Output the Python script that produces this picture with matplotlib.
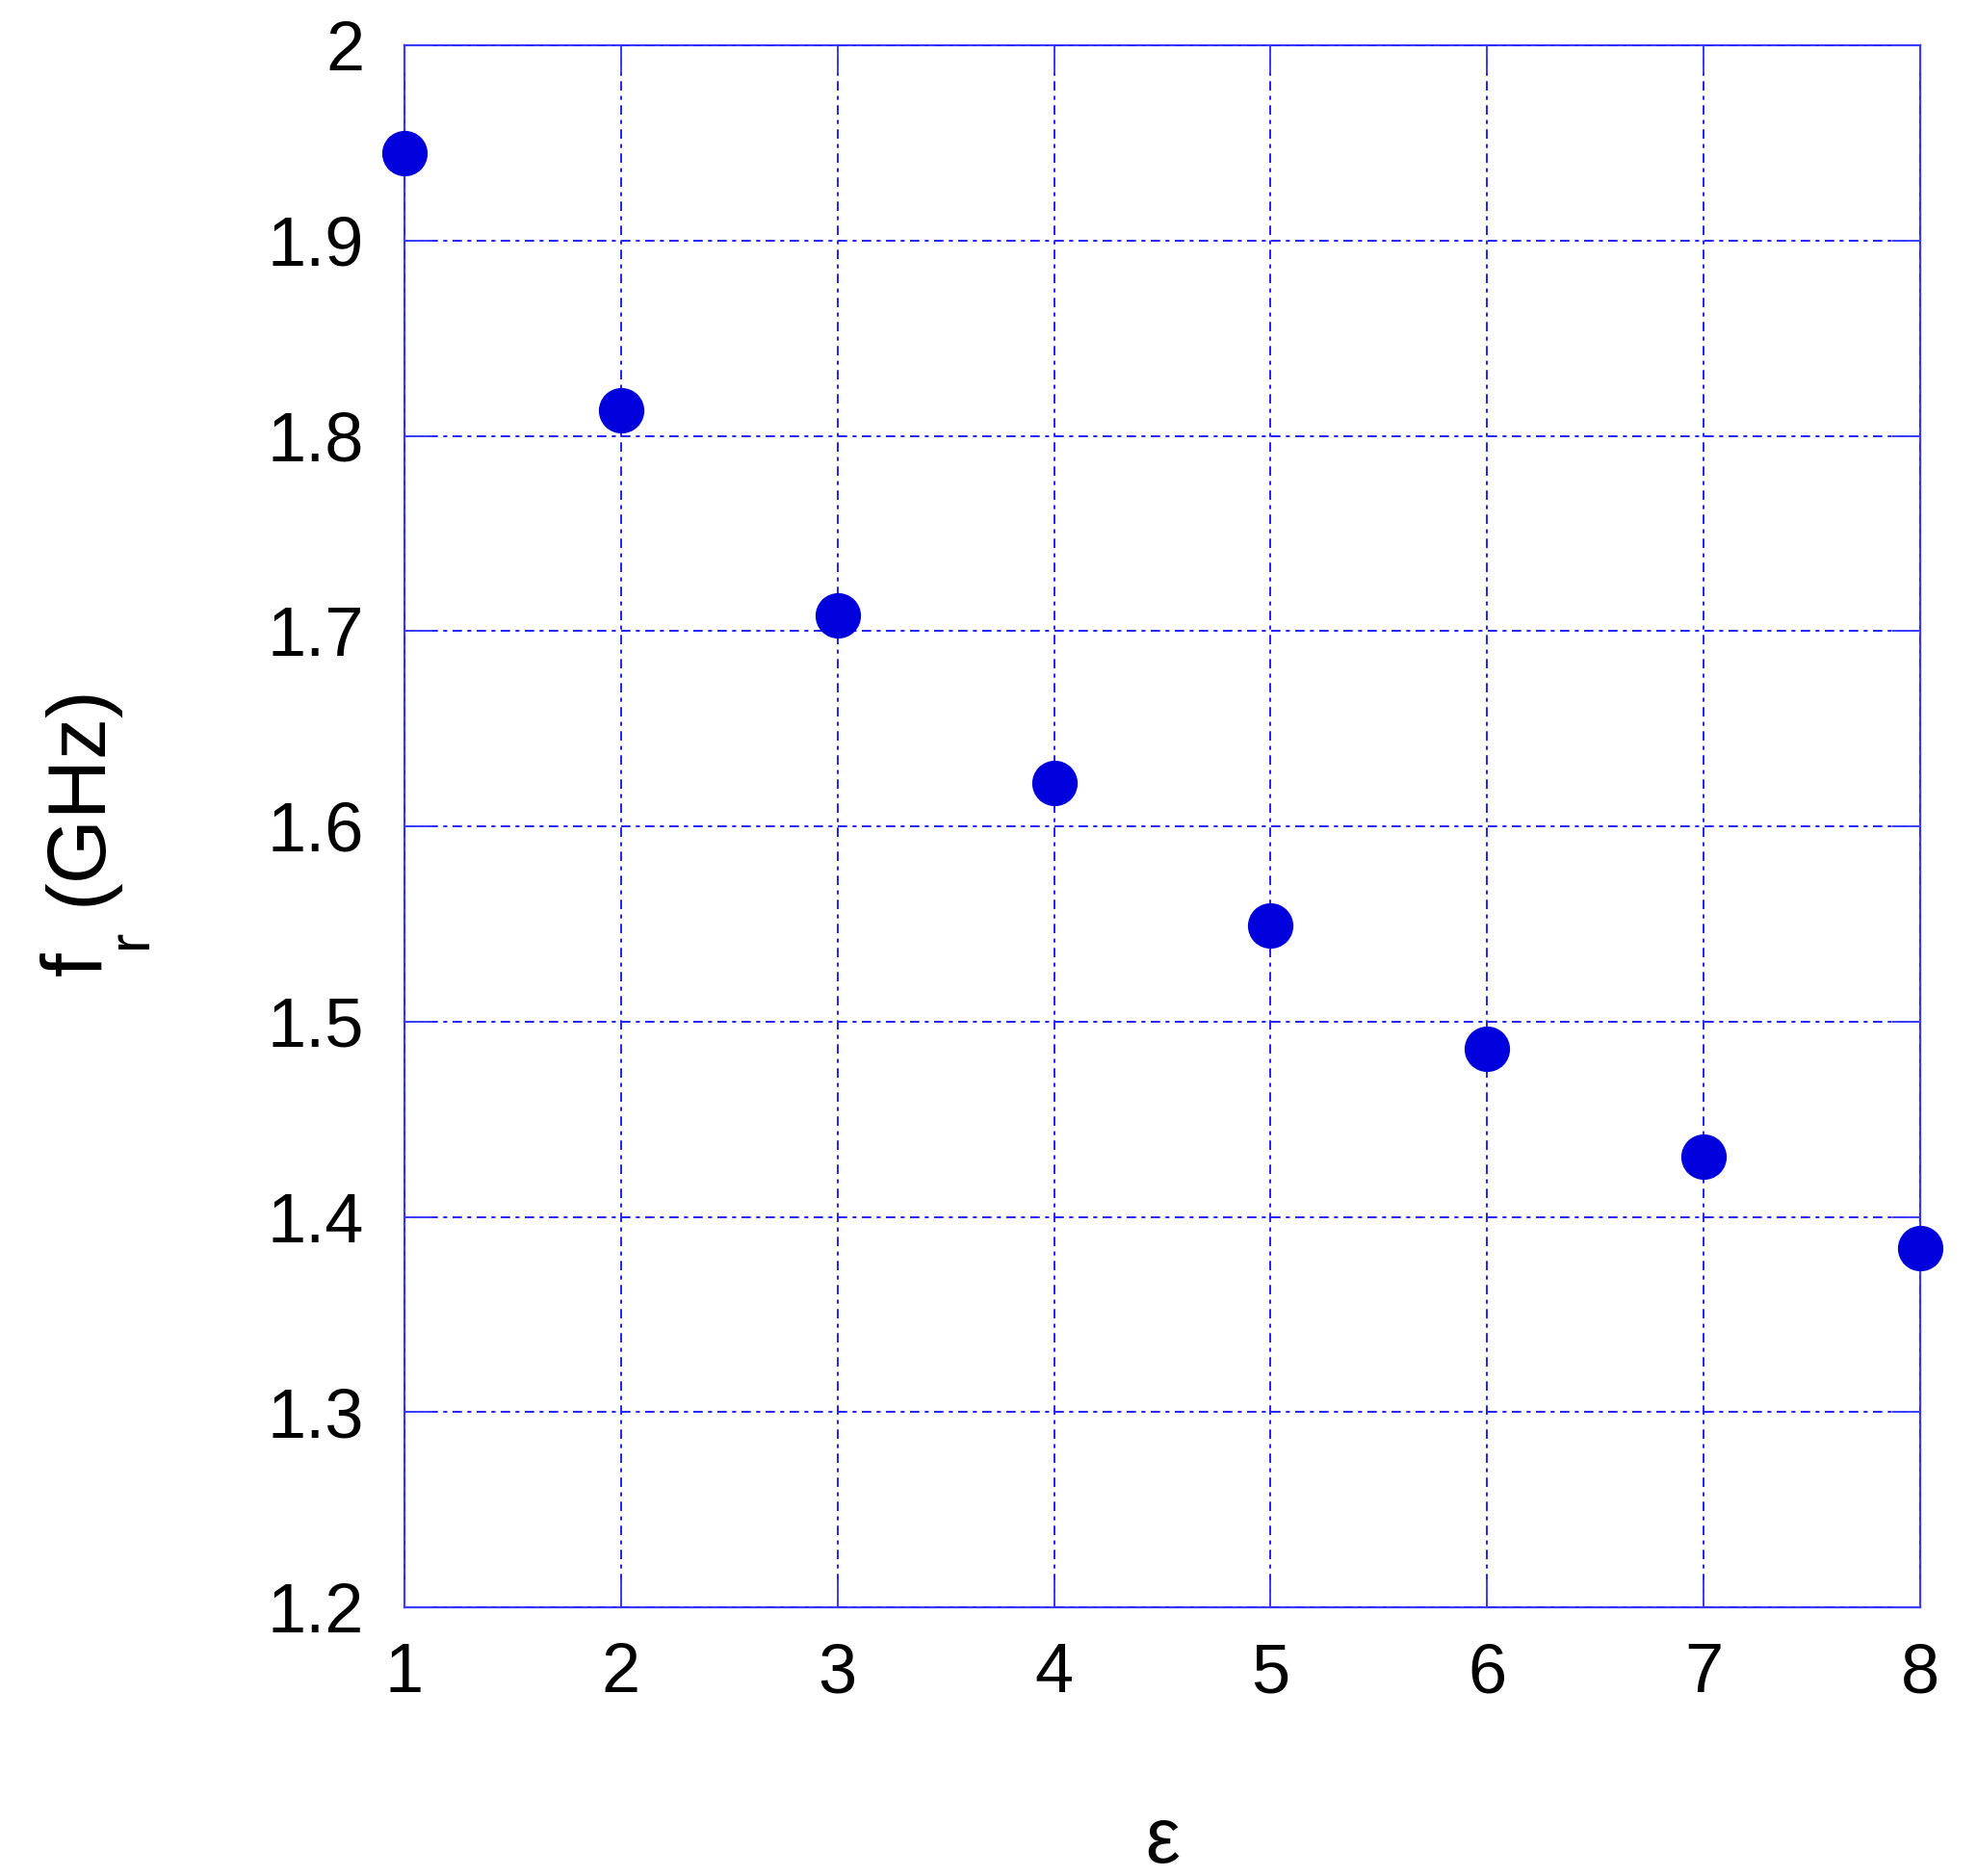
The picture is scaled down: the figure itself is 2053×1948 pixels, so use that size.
import matplotlib
matplotlib.use('Agg')
import matplotlib.pyplot as plt

# permittivity vs resonant frequency
eps = [1, 2, 3, 4, 5, 6, 7, 8]
f_r = [1.945, 1.813, 1.708, 1.622, 1.549, 1.486, 1.431, 1.384]

x_ticks = [1, 2, 3, 4, 5, 6, 7, 8]
y_ticks = [1.2, 1.3, 1.4, 1.5, 1.6, 1.7, 1.8, 1.9, 2.0]
y_labels = ['1.2', '1.3', '1.4', '1.5', '1.6', '1.7', '1.8', '1.9', '2']

plt.rcParams['font.family'] = ['Liberation Sans', 'DejaVu Sans']
plt.rcParams['lines.scale_dashes'] = False

W, H = 2053, 1948
fig = plt.figure(figsize=(W / 100, H / 100), dpi=100)
ax = fig.add_axes([420 / W, 1 - 1669 / H, (1994 - 420) / W, (1669 - 47) / H])

spine_col = '#3c3cff'
grid_col = '#2020ff'

ax.plot(eps, f_r, 'o', color='#0000dd', markersize=33, clip_on=False, zorder=5)

ax.set_xlim(1, 8)
ax.set_ylim(1.2, 2.0)
ax.set_xticks(x_ticks)
ax.set_yticks(y_ticks)
ax.set_yticklabels(y_labels)

ax.grid(True, color=grid_col, linewidth=1.4, linestyle=(0, (7, 4, 3, 4)))
ax.set_axisbelow(False)

for s in ax.spines.values():
    s.set_color(spine_col)
    s.set_linewidth(1.6)

ax.tick_params(direction='in', length=21, width=1.4, color=spine_col,
               top=True, right=True, labelsize=52, pad=26)
ax.tick_params(axis='y', pad=30)

ax.set_xlabel('ε', fontsize=58, labelpad=74)

# y label built from pieces so the subscript sits low like the original
def px(x, y):
    return x / W, 1 - y / H

kw = dict(rotation=90, rotation_mode='anchor', ha='left', va='baseline')
fig.text(*px(105, 1013), 'f', fontsize=64, **kw)
fig.text(*px(152, 985), 'r', fontsize=44, **kw)
fig.text(*px(105, 940), '(GHz)', fontsize=62, **kw)

fig.savefig('out.png', dpi=100)
